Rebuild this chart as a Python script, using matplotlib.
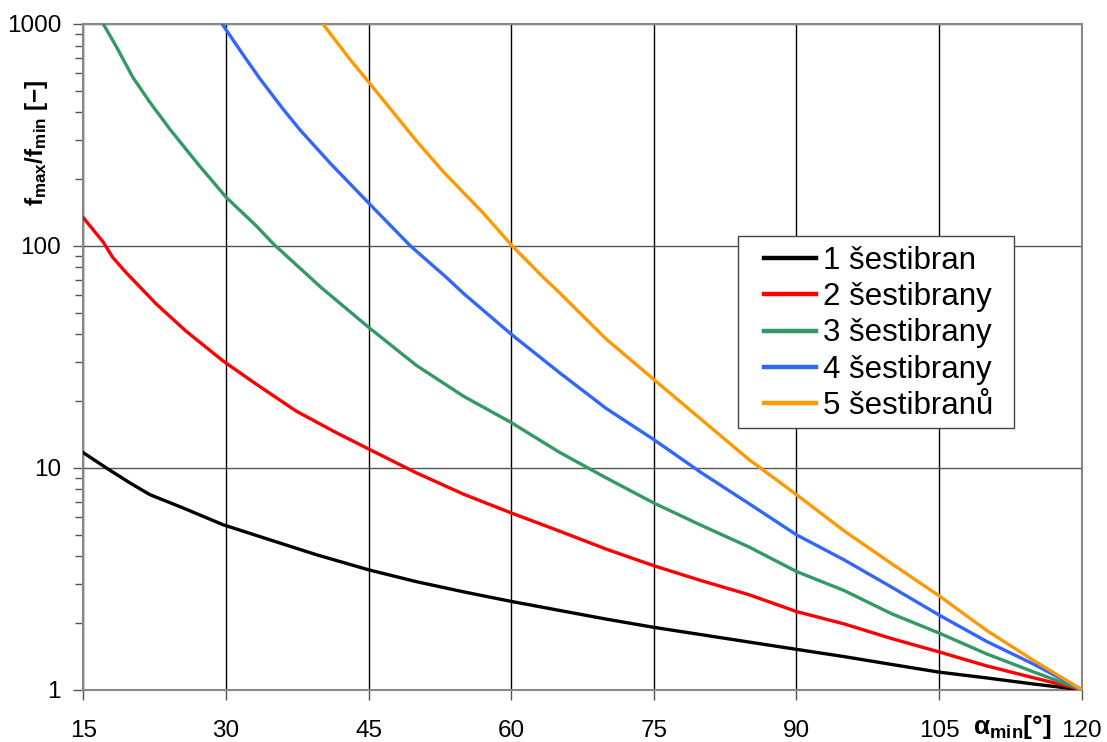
import matplotlib
matplotlib.use("Agg")
import matplotlib.pyplot as plt
from matplotlib.ticker import NullFormatter, LogLocator
from matplotlib.patches import Rectangle

plt.rcParams['font.family'] = ['Liberation Sans', 'DejaVu Sans']
plt.rcParams['mathtext.fontset'] = 'custom'
plt.rcParams['mathtext.rm'] = 'Liberation Sans'
plt.rcParams['mathtext.bf'] = 'Liberation Sans:bold'
plt.rcParams['mathtext.it'] = 'Liberation Sans:italic'

# ---- data ----
x_1 = [15, 17.4, 19.9, 22, 25.5, 29.7, 34.6, 39.5, 45, 50, 55, 60, 65, 70, 75, 80, 85, 90, 95, 100, 105, 110, 115, 120]
y_1 = [11.7, 10.0, 8.55, 7.57, 6.59, 5.54, 4.74, 4.06, 3.47, 3.07, 2.76, 2.50, 2.28, 2.08, 1.91, 1.77, 1.64, 1.52, 1.41, 1.30, 1.20, 1.13, 1.06, 1.0]

x_2 = [15, 17.1, 18.1, 19.5, 22.7, 25.8, 29.7, 33.2, 37.4, 41.6, 45.1, 50, 55, 60, 65, 70, 75, 80, 85, 90, 95, 100, 105, 110, 115, 120]
y_2 = [134, 104, 88.7, 75.8, 54.6, 41.3, 30.3, 23.8, 18.0, 14.4, 12.1, 9.5, 7.6, 6.26, 5.2, 4.3, 3.62, 3.1, 2.68, 2.25, 1.98, 1.70, 1.48, 1.28, 1.13, 1.0]

x_3 = [17.1, 18.5, 20.2, 22.0, 24.1, 25.5, 27.2, 30, 33.2, 35, 40, 45, 50, 55, 60, 65, 70, 75, 80, 85, 90, 95, 100, 105, 110, 115, 120]
y_3 = [1000, 787, 576, 444, 336, 283, 230, 166, 123, 102, 65, 43, 29, 21, 16, 11.8, 9.0, 6.94, 5.5, 4.4, 3.41, 2.8, 2.2, 1.8, 1.45, 1.2, 1.0]

x_4 = [29.6, 32.1, 33.6, 36.0, 37.8, 41.0, 45.2, 49.4, 53.2, 55, 60, 65, 70, 75, 80, 85, 90, 95, 100, 105, 110, 115, 120]
y_4 = [1000, 697, 565, 414, 333, 235, 153, 100, 72, 61, 40, 27, 18.5, 13.4, 9.5, 6.9, 4.99, 3.85, 2.9, 2.17, 1.65, 1.3, 1.0]

x_5 = [40.2, 43.0, 45.2, 50.1, 52.9, 57.1, 60.1, 63.4, 65, 70, 75, 80, 85, 90, 95, 100, 105, 110, 115, 120]
y_5 = [1000, 697, 535, 295, 215, 140, 100, 72, 62, 38, 25, 16.5, 10.9, 7.57, 5.2, 3.7, 2.65, 1.85, 1.35, 1.0]

labels = ['1 šestibran', '2 šestibrany', '3 šestibrany', '4 šestibrany', '5 šestibranů']
colors = ['#000000', '#FF0000', '#339966', '#3366FF', '#FF9900']

x_ticks = [15, 30, 45, 60, 75, 90, 105, 120]
x_ticklabels = ['15', '30', '45', '60', '75', '90', '105', '120']
y_ticks = [1, 10, 100, 1000]
y_ticklabels = ['1', '10', '100', '1000']

# ---- figure ----
W, H = 1107, 742
fig = plt.figure(figsize=(W / 100, H / 100), dpi=100)
ax = fig.add_axes([83.3 / W, 1 - 689.7 / H, (1081.7 - 83.3) / W, (689.7 - 24) / H])

for xs, ys, lab, c in zip([x_1, x_2, x_3, x_4, x_5], [y_1, y_2, y_3, y_4, y_5], labels, colors):
    ax.plot(xs, ys, color=c, lw=2.4, label=lab, zorder=3, solid_joinstyle='round')

ax.set_yscale('log')
ax.set_xlim(15, 120)
ax.set_ylim(1, 1000)

ax.set_xticks(x_ticks)
ax.set_xticklabels(x_ticklabels)
ax.set_yticks(y_ticks)
ax.set_yticklabels(y_ticklabels)
ax.yaxis.set_minor_locator(LogLocator(base=10, subs=range(2, 10)))
ax.yaxis.set_minor_formatter(NullFormatter())

ax.tick_params(axis='both', which='major', labelsize=17.5, length=7, width=1, color='#555555', direction='out')
ax.tick_params(axis='y', which='minor', length=6, width=1, color='#555555', direction='out')
ax.tick_params(axis='x', which='major', pad=15)
ax.tick_params(axis='y', which='major', pad=9)

ax.grid(True, which='major', axis='x', color='black', lw=1, zorder=1)
ax.grid(True, which='major', axis='y', color='#555555', lw=1, zorder=1)

for s in ax.spines.values():
    s.set_color('#888888')
    s.set_linewidth(1.5)

# axis labels
fig.text(37 / W, 1 - 143 / H, r'$\mathbf{f_{max}/f_{min}}$ $\mathbf{[-]}$', rotation=90,
         ha='center', va='center', fontsize=17.5)
fig.text(1012 / W, 1 - 727 / H, r'$\mathbf{\alpha_{min}[°]}$', ha='center', va='center', fontsize=19)

# legend box and legend
box = Rectangle((737.7 / W, 1 - 428.3 / H), (1014 - 737.7) / W, (428.3 - 235.7) / H,
                transform=fig.transFigure, facecolor='white', edgecolor='#444444',
                lw=1, zorder=4, clip_on=False)
ax.add_patch(box)
leg = ax.legend(loc='upper left', bbox_to_anchor=(764.3 / W, 1 - 246 / H),
                bbox_transform=fig.transFigure,
                borderaxespad=0, borderpad=0, fontsize=22.5, handlelength=1.65,
                handletextpad=0.22, labelspacing=0.2, frameon=False)
leg.set_zorder(5)
for h in leg.get_lines():
    h.set_linewidth(3.2)

fig.savefig('out.png', dpi=100)
